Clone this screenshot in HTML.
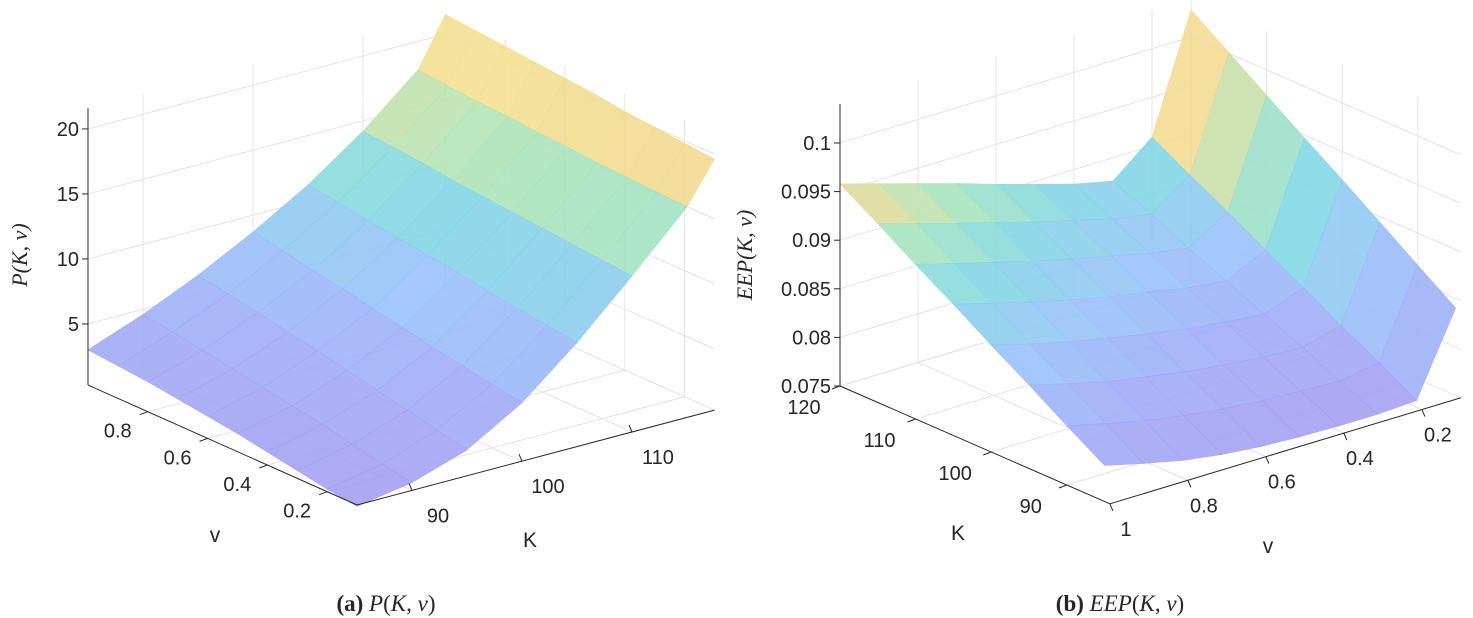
<!DOCTYPE html>
<html><head><meta charset="utf-8">
<style>
html,body{margin:0;padding:0;background:#fff;}
svg{display:block;}
text{font-family:"Liberation Sans",sans-serif;fill:#262626;}
.math{font-family:"Liberation Serif",serif;font-style:italic;}
</style></head>
<body>
<svg id="fig" width="1473" height="618" viewBox="0 0 1473 618" xmlns="http://www.w3.org/2000/svg">
<g id="pa"></g>
<g id="pb"></g>
<text x="0" y="0" class="math" font-size="22" transform="translate(27,255) rotate(-90)" text-anchor="middle">P(K, v)</text>
<text x="215" y="542" font-size="21" text-anchor="middle">v</text>
<text x="530" y="547" font-size="21" text-anchor="middle">K</text>
<text x="0" y="0" class="math" font-size="22" transform="translate(752,255) rotate(-90)" text-anchor="middle">EEP(K, v)</text>
<text x="958" y="540" font-size="21" text-anchor="middle">K</text>
<text x="1268" y="553" font-size="21" text-anchor="middle">v</text>
<text x="386" y="611" font-size="23" text-anchor="middle" style="font-family:'Liberation Serif',serif"><tspan font-weight="bold">(a)</tspan> <tspan font-style="italic">P</tspan>(<tspan font-style="italic">K</tspan>, <tspan font-style="italic">v</tspan>)</text>
<text x="1120" y="611" font-size="23" text-anchor="middle" style="font-family:'Liberation Serif',serif"><tspan font-weight="bold">(b)</tspan> <tspan font-style="italic">EEP</tspan>(<tspan font-style="italic">K</tspan>, <tspan font-style="italic">v</tspan>)</text>
</svg>
<script>
// ---- Panel A data ----
const aK = [85, 90, 95, 100, 105, 110, 115, 117.5];
const aV = [0.1, 0.2, 0.3, 0.4, 0.5, 0.6, 0.7, 0.8, 0.9, 1.0];
const aP = [
 [0.2,0.5,0.9,1.3,1.7,2.0,2.3,2.6,2.8,3.0],
 [0.9,1.3,1.8,2.3,2.7,3.1,3.5,3.9,4.3,4.6],
 [2.3,2.8,3.3,3.8,4.3,4.8,5.2,5.7,6.1,6.5],
 [4.8,5.2,5.6,6.0,6.5,6.9,7.4,7.8,8.3,8.7],
 [8.3,8.6,8.9,9.2,9.6,9.9,10.2,10.5,10.9,11.2],
 [12.3,12.5,12.7,12.9,13.1,13.3,13.5,13.8,14.0,14.2],
 [16.5,16.6,16.7,16.8,17.0,17.1,17.3,17.4,17.6,17.8],
 [19.6,19.8,20.0,20.2,20.5,20.7,20.9,21.1,21.3,21.5]
];
const aZTicks = [5, 10, 15, 20];
const aZLabels = ["5", "10", "15", "20"];
const aVTicks = [0.2, 0.4, 0.6, 0.8];
const aVLabels = ["0.2", "0.4", "0.6", "0.8"];
const aKTicks = [90, 100, 110];
const aKLabels = ["90", "100", "110"];
// ---- Panel B data ----
const bK = [85, 90, 95, 100, 105, 110, 115, 120];
const bV = [0.1, 0.2, 0.3, 0.4, 0.5, 0.6, 0.7, 0.8, 0.9, 1.0];
const bE = [
 [.0840,.0757,.0755,.0755,.0756,.0758,.0762,.0768,.0777,.0787],
 [.0867,.0779,.0772,.0774,.0776,.0780,.0785,.0792,.0801,.0811],
 [.0894,.0800,.0790,.0792,.0796,.0801,.0808,.0815,.0825,.0836],
 [.0921,.0822,.0807,.0811,.0816,.0823,.0831,.0839,.0849,.0860],
 [.0947,.0844,.0824,.0829,.0837,.0844,.0853,.0863,.0874,.0885],
 [.0974,.0866,.0841,.0848,.0857,.0866,.0876,.0887,.0898,.0909],
 [.1001,.0887,.0859,.0866,.0877,.0887,.0899,.0910,.0922,.0934],
 [.1028,.0909,.0876,.0885,.0897,.0909,.0922,.0934,.0946,.0958]
];
const bZTicks = [0.075, 0.08, 0.085, 0.09, 0.095, 0.1];
const bZLabels = ["0.075", "0.08", "0.085", "0.09", "0.095", "0.1"];
const bKTicks = [90, 100, 110, 120];
const bKLabels = ["90", "100", "110", "120"];
const bVTicks = [0.2, 0.4, 0.6, 0.8, 1];
const bVLabels = ["0.2", "0.4", "0.6", "0.8", "1"];

const NS = "http://www.w3.org/2000/svg";
const stops = [[0,[164,155,239]],[0.2,[158,170,246]],[0.38,[150,192,248]],[0.55,[128,214,228]],[0.7,[168,228,184]],[0.82,[240,216,146]],[1,[248,230,140]]];
function cmap(t){
  t=Math.max(0,Math.min(1,t));
  for(let i=1;i<stops.length;i++){
    if(t<=stops[i][0]){
      const s0=stops[i-1],s1=stops[i],f=(t-s0[0])/(s1[0]-s0[0]);
      const c=s0[1].map((x,j)=>Math.round(x+(s1[1][j]-x)*f));
      return "rgb("+c.join(",")+")";
    }
  }
  return "rgb(248,230,140)";
}
function mk(parent,tag,attrs){
  const e=document.createElementNS(NS,tag);
  for(const k in attrs) e.setAttribute(k,attrs[k]);
  parent.appendChild(e); return e;
}
function makeProj(P){
  return function(K,v,z){
    return [P.ox+(K-P.K0)*P.a[0]+(v-P.v0)*P.b[0], P.oy+(K-P.K0)*P.a[1]+(v-P.v0)*P.b[1]+(z-P.z0)*P.c];
  };
}
function line(g,p,q,stroke,w,name){
  const l=mk(g,"line",{x1:p[0],y1:p[1],x2:q[0],y2:q[1],stroke:stroke,"stroke-width":w});
  
  
  return l;
}
function label(g,x,y,txt,anchor,name){
  const t=mk(g,"text",{x:x,y:y,"font-size":20,"text-anchor":anchor});
  t.textContent=txt;
  
  
}
function drawPanel(g,P,Ks,Vs,Z,cfg){
  const pr=makeProj(P);
  const GC="#e3e3e3";
  const Kw=cfg.Kwall, Vw=cfg.Vwall;
  cfg.zTicks.forEach(z=>line(g,pr(cfg.Kr[0],Vw,z),pr(cfg.Kr[1],Vw,z),GC,1,"grid-line"));
  cfg.zTicks.forEach(z=>line(g,pr(Kw,cfg.Vr[0],z),pr(Kw,cfg.Vr[1],z),GC,1,"grid-line"));
  cfg.kTicks.concat([Kw]).forEach(k=>{line(g,pr(k,Vw,cfg.Zr[0]),pr(k,Vw,cfg.Zr[1]),GC,1,"grid-line");
    line(g,pr(k,cfg.Vr[0],cfg.Zr[0]),pr(k,cfg.Vr[1],cfg.Zr[0]),GC,1,"grid-line");});
  cfg.vTicks.forEach(v=>{line(g,pr(Kw,v,cfg.Zr[0]),pr(Kw,v,cfg.Zr[1]),GC,1,"grid-line");
    line(g,pr(cfg.Kr[0],v,cfg.Zr[0]),pr(cfg.Kr[1],v,cfg.Zr[0]),GC,1,"grid-line");});
  const quads=[];
  for(let i=0;i<Ks.length-1;i++)for(let j=0;j<Vs.length-1;j++){
    const zs=[Z[i][j],Z[i+1][j],Z[i+1][j+1],Z[i][j+1]];
    const pts=[pr(Ks[i],Vs[j],zs[0]),pr(Ks[i+1],Vs[j],zs[1]),pr(Ks[i+1],Vs[j+1],zs[2]),pr(Ks[i],Vs[j+1],zs[3])];
    const zm=(zs[0]+zs[1]+zs[2]+zs[3])/4;
    const depth=cfg.depth((Ks[i]+Ks[i+1])/2,(Vs[j]+Vs[j+1])/2);
    quads.push({pts,zm,depth});
  }
  quads.sort((a,b)=>b.depth-a.depth);
  const sg=mk(g,"g",{});
  
  
  quads.forEach(q=>{
    const c=cmap((q.zm-cfg.cr[0])/(cfg.cr[1]-cfg.cr[0]));
    const p=mk(sg,"polygon",{points:q.pts.map(p=>p[0].toFixed(1)+","+p[1].toFixed(1)).join(" "),fill:c,"fill-opacity":0.88,stroke:c,"stroke-opacity":0.88,"stroke-width":0.6});
    
    
  });
  const AC="#262626";
  const za=cfg.zAxisAt;
  line(g,pr(za[0],za[1],cfg.Zr[0]),pr(za[0],za[1],cfg.Zr[1]),AC,1,"z-axis-line");
  cfg.zTicks.forEach((z,i)=>{const p=pr(za[0],za[1],z);
    line(g,p,[p[0]-6,p[1]],AC,1,"z-tick");
    label(g,p[0]-9,p[1]+7,cfg.zLabels[i],"end","z-tick-label");});
  const kv=cfg.kAxisV;
  line(g,pr(cfg.Kr[0],kv,cfg.Zr[0]),pr(cfg.Kr[1],kv,cfg.Zr[0]),AC,1,"k-axis-line");
  cfg.kTicks.forEach((k,i)=>{const p=pr(k,kv,cfg.Zr[0]);
    line(g,p,[p[0]+cfg.kTickDir[0],p[1]+cfg.kTickDir[1]],AC,1,"k-tick");
    label(g,p[0]+cfg.kLab[0],p[1]+cfg.kLab[1],cfg.kLabels[i],"middle","k-tick-label");});
  const vk=cfg.vAxisK;
  line(g,pr(vk,cfg.Vr[0],cfg.Zr[0]),pr(vk,cfg.Vr[1],cfg.Zr[0]),AC,1,"v-axis-line");
  cfg.vTicks.forEach((v,i)=>{const p=pr(vk,v,cfg.Zr[0]);
    line(g,p,[p[0]+cfg.vTickDir[0],p[1]+cfg.vTickDir[1]],AC,1,"v-tick");
    label(g,p[0]+cfg.vLab[0],p[1]+cfg.vLab[1],cfg.vLabels[i],"middle","v-tick-label");});
}
const PA={K0:85,v0:0.1,z0:0.3,ox:357,oy:505,a:[11.0,-2.92],b:[-298.9,-133.3],c:-13};
drawPanel(document.getElementById("pa"),PA,aK,aV,aP,{
  Kr:[85,117.5],Vr:[0.1,1],Zr:[0.3,21.6],Kwall:117.5,Vwall:1,
  zTicks:aZTicks,zLabels:aZLabels,kTicks:aKTicks,kLabels:aKLabels,vTicks:aVTicks,vLabels:aVLabels,
  depth:(K,v)=>(K-85)/32.5+(v-0.1)/0.9, cr:[0.2,21.5],
  zAxisAt:[85,1], kAxisV:0.1, kTickDir:[-3,-7], kLab:[26,32], vAxisK:85, vTickDir:[-8,3], vLab:[-30,26]
});
const PB={K0:120,v0:1,z0:0.075,ox:840,oy:386,a:[-7.56,-3.3],b:[-390,117.8],c:-9720};
drawPanel(document.getElementById("pb"),PB,bK,bV,bE,{
  Kr:[84.3,120],Vr:[0.1,1],Zr:[0.075,0.104],Kwall:120,Vwall:0.1,
  zTicks:bZTicks,zLabels:bZLabels,kTicks:bKTicks,kLabels:bKLabels,vTicks:bVTicks,vLabels:bVLabels,
  depth:(K,v)=>(K-85)/35+(1-v)/0.9, cr:[0.0755,0.099],
  zAxisAt:[120,1], kAxisV:1, kTickDir:[-8,3], kLab:[-36,28], vAxisK:84.3, vTickDir:[3,7], vLab:[16,32]
});
</script>
</body></html>
